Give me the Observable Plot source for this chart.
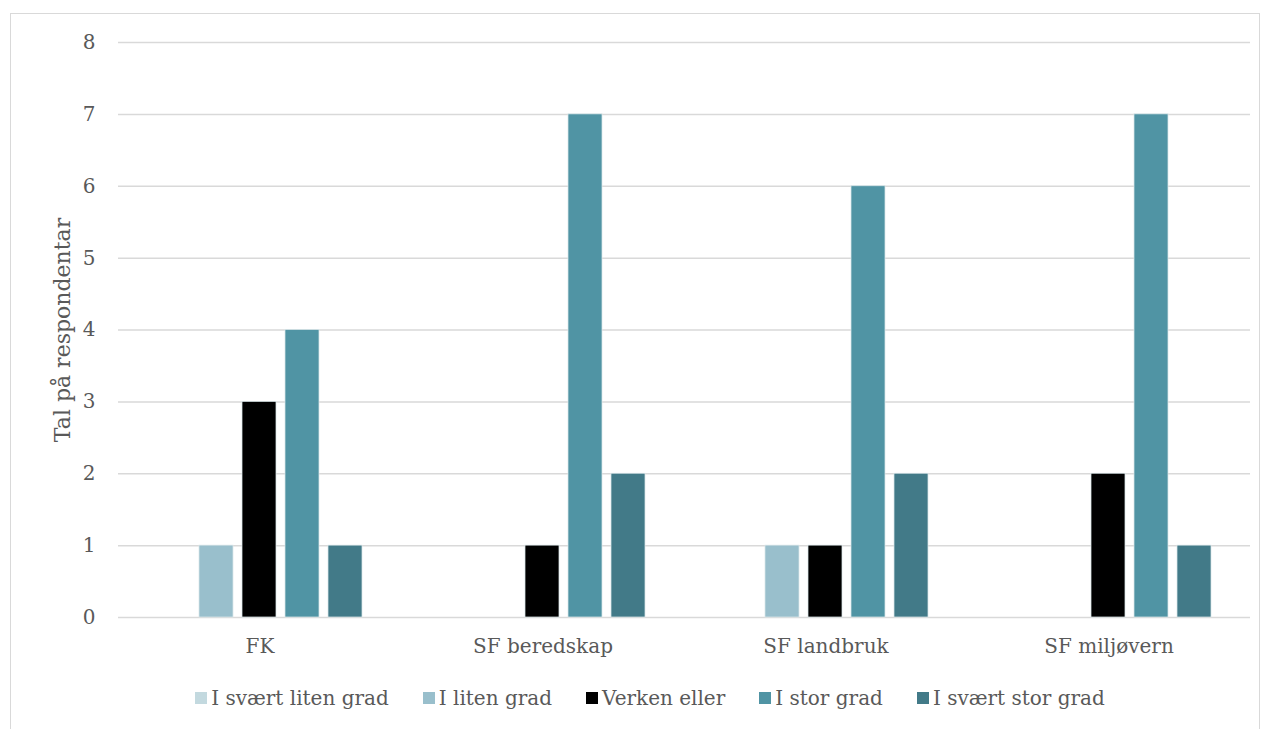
<!DOCTYPE html>
<html>
<head>
<meta charset="utf-8">
<script src="https://cdn.jsdelivr.net/npm/d3@7"></script>
<script src="https://cdn.jsdelivr.net/npm/@observablehq/plot@0.6"></script>
<style>
  html, body { margin: 0; padding: 0; background: #fff; overflow: hidden; width: 1268px; height: 729px; }
  body { position: relative; font-family: "DejaVu Serif", serif; color: #595959; }
  #frame { position: absolute; left: 10px; top: 13px; width: 1250px; height: 760px; border: 1.5px solid #d9d9d9; box-sizing: border-box; }
  #chart { position: absolute; left: 0; top: 0; }
  #legend { position: absolute; left: 0; top: 686px; width: 1300px; display: flex; justify-content: center; gap: 34px; font-size: 20px; }
  .item { display: flex; align-items: center; gap: 4px; white-space: nowrap; }
  .sw { width: 12px; height: 12px; display: inline-block; }
  #chart svg g[aria-label="y-axis label"] text, #chart svg g[aria-label="y-axis label"] { font-size: 22px; }
</style>
</head>
<body>
<div id="frame"></div>
<div id="chart"></div>
<div id="legend"></div>
<script>
const categories = ["FK", "SF beredskap", "SF landbruk", "SF miljøvern"];
const series = ["I svært liten grad", "I liten grad", "Verken eller", "I stor grad", "I svært stor grad"];
const colors = ["#c3d9df", "#99bfcc", "#000000", "#5094a4", "#427a88"];
const svaertLiten = [0, 0, 0, 0];
const liten = [1, 0, 1, 0];
const verken = [3, 1, 1, 2];
const stor = [4, 7, 6, 7];
const svaertStor = [1, 2, 2, 1];
const yTicks = [0, 1, 2, 3, 4, 5, 6, 7, 8];

const seriesValues = [svaertLiten, liten, verken, stor, svaertStor];
const data = [];
series.forEach((s, i) => categories.forEach((c, j) => data.push({category: c, series: s, value: seriesValues[i][j]})));

const font = "DejaVu Serif, serif";
const chart = Plot.plot({
  width: 1268,
  height: 660,
  marginTop: 42,
  marginBottom: 43,
  marginLeft: 118,
  marginRight: 18,
  style: {fontFamily: font, fontSize: "20px", color: "#595959", background: "transparent", overflow: "visible"},
  fx: {domain: categories, padding: 0, label: null, axis: "bottom", tickSize: 0, tickPadding: 21},
  x: {domain: series, paddingInner: 0.2, paddingOuter: 0.853, axis: null},
  y: {domain: [0, 8], ticks: yTicks, tickSize: 0, tickPadding: 23, label: "Tal på respondentar", labelAnchor: "center", labelOffset: 64, labelArrow: "none"},
  color: {domain: series, range: colors},
  marks: [
    Plot.ruleY(yTicks, {stroke: "#d9d9d9", strokeWidth: 1.5}),
    Plot.barY(data.filter(d => d.value > 0), {fx: "category", x: "series", y: "value", fill: "series", stroke: "#dbe7ea", strokeWidth: 0.75})
  ]
});
document.getElementById("chart").appendChild(chart);

const legend = document.getElementById("legend");
series.forEach((s, i) => {
  const item = document.createElement("div");
  item.className = "item";
  const sw = document.createElement("span");
  sw.className = "sw";
  sw.style.background = colors[i];
  const t = document.createElement("span");
  t.textContent = s;
  item.appendChild(sw);
  item.appendChild(t);
  legend.appendChild(item);
});
</script>
</body>
</html>
